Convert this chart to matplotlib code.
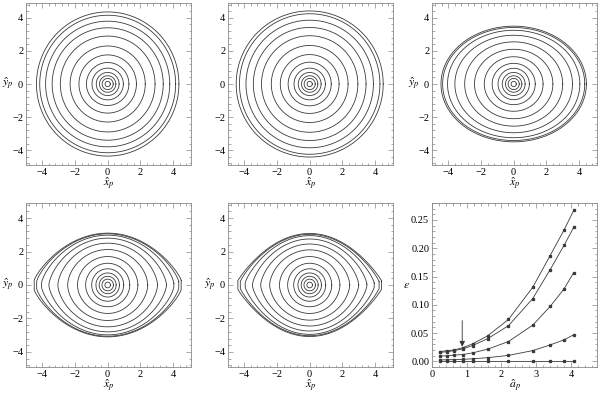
import numpy as np
import matplotlib
matplotlib.use("Agg")
import matplotlib.pyplot as plt
from matplotlib.ticker import MultipleLocator

plt.rcParams['font.family'] = ['Liberation Serif', 'DejaVu Serif']
plt.rcParams['mathtext.fontset'] = 'stix'

# ---- contour data: semi-axes along x, along y, shape exponent, tip bluntness ----
p1_ax = [0.16, 0.34, 0.50, 0.70, 0.96, 1.30, 1.76, 2.30, 2.90, 3.40, 3.80, 4.16, 4.36]
p1_ay = [0.16, 0.34, 0.50, 0.70, 0.96, 1.30, 1.76, 2.30, 2.90, 3.40, 3.80, 4.16, 4.36]
p1_n = [2.0] * 13
p1_c = [0.0] * 13

p2_ax = [0.16, 0.34, 0.50, 0.70, 0.96, 1.32, 1.80, 2.35, 2.95, 3.45, 3.90, 4.30, 4.50]
p2_ay = [0.16, 0.34, 0.50, 0.70, 0.96, 1.32, 1.78, 2.33, 2.92, 3.42, 3.86, 4.25, 4.42]
p2_n = [2.0] * 13
p2_c = [0.0] * 13

p3_ax = [0.16, 0.34, 0.50, 0.70, 0.96, 1.32, 1.80, 2.40, 3.00, 3.60, 4.05, 4.35, 4.45]
p3_ay = [0.16, 0.34, 0.50, 0.70, 0.95, 1.25, 1.65, 2.10, 2.55, 2.95, 3.25, 3.42, 3.50]
p3_n = [2.0] * 13
p3_c = [0.0] * 13

p4_ax = [0.17, 0.35, 0.52, 0.72, 0.98, 1.35, 1.85, 2.45, 3.05, 3.60, 4.05, 4.35, 4.50]
p4_ay = [0.17, 0.35, 0.52, 0.72, 0.97, 1.30, 1.70, 2.12, 2.50, 2.80, 2.98, 3.06, 3.10]
p4_n = [2.0, 2.0, 2.0, 2.0, 2.0, 1.95, 1.88, 1.78, 1.65, 1.52, 1.40, 1.30, 1.22]
p4_c = [0.0, 0.0, 0.0, 0.0, 0.0, 0.0, 0.0, 0.0, 0.0, 0.0, 0.10, 0.20, 0.28]

p5_ax = [0.17, 0.35, 0.52, 0.72, 0.98, 1.35, 1.85, 2.45, 3.00, 3.50, 3.95, 4.25, 4.40]
p5_ay = [0.17, 0.35, 0.52, 0.72, 0.97, 1.30, 1.70, 2.10, 2.45, 2.75, 2.95, 3.03, 3.08]
p5_n = [2.0, 2.0, 2.0, 2.0, 2.0, 1.95, 1.85, 1.70, 1.55, 1.40, 1.25, 1.15, 1.08]
p5_c = [0.0, 0.0, 0.0, 0.0, 0.0, 0.0, 0.0, 0.0, 0.0, 0.05, 0.12, 0.20, 0.25]

# ---- epsilon vs a_p ----
a_p = [0.22, 0.44, 0.63, 0.88, 1.17, 1.60, 2.20, 2.90, 3.40, 3.80, 4.08]
eps_A = [0.017, 0.019, 0.020, 0.024, 0.031, 0.045, 0.074, 0.131, 0.187, 0.232, 0.267]
eps_B = [0.016, 0.017, 0.019, 0.022, 0.028, 0.040, 0.063, 0.111, 0.162, 0.205, 0.237]
eps_C = [0.009, 0.010, 0.011, 0.012, 0.015, 0.0215, 0.035, 0.064, 0.097, 0.128, 0.157]
eps_D = [0.0025, 0.0028, 0.003, 0.0035, 0.0045, 0.0065, 0.0105, 0.019, 0.029, 0.038, 0.047]
eps_E = [0.0005] * 11
arrow_x = 0.87
arrow_y = [0.077, 0.021]

W, H = 600, 394
fig = plt.figure(figsize=(6.0, 3.94), dpi=100)

cols = [26, 228, 432]
wid = 165
rows = [(3, 165), (203, 367)]

def make_ax(col, row):
    top, bot = rows[row]
    return fig.add_axes([cols[col] / W, (H - bot) / H, wid / W, (bot - top) / H])

FS = 7.5
frame_col = '#888888'
line_col = '#3a3a3a'

def style(ax):
    for s in ax.spines.values():
        s.set_color(frame_col)
        s.set_linewidth(0.6)
    ax.tick_params(which='both', direction='in', top=True, right=True,
                   color=frame_col, labelsize=FS, width=0.5, pad=2)
    ax.tick_params(which='major', length=3.5)
    ax.tick_params(which='minor', length=1.8)

def draw_curves(ax, axs, ays, ns, cs):
    t = np.linspace(0, 2 * np.pi, 721)
    for a, b, n, c in zip(axs, ays, ns, cs):
        x = a * np.cos(t)
        s = np.sin(t)
        y = np.sign(s) * (c + (b - c) * np.abs(s) ** (2.0 / n))
        y[0] = c; y[-1] = c
        ax.plot(x, y, color=line_col, lw=0.6)
    ax.set_xlim(-5, 5.1)
    ax.set_ylim(-4.9, 4.9)
    ax.xaxis.set_major_locator(MultipleLocator(2))
    ax.yaxis.set_major_locator(MultipleLocator(2))
    ax.xaxis.set_minor_locator(MultipleLocator(0.4))
    ax.yaxis.set_minor_locator(MultipleLocator(0.4))
    style(ax)
    ax.set_xlabel(r'$\hat{x}_p$', fontsize=FS + 1, labelpad=-1)

panels = [
    (0, 0, p1_ax, p1_ay, p1_n, p1_c, True),
    (1, 0, p2_ax, p2_ay, p2_n, p2_c, False),
    (2, 0, p3_ax, p3_ay, p3_n, p3_c, True),
    (0, 1, p4_ax, p4_ay, p4_n, p4_c, True),
    (1, 1, p5_ax, p5_ay, p5_n, p5_c, True),
]
for col, row, axs_, ays_, ns_, cs_, ylab in panels:
    ax = make_ax(col, row)
    draw_curves(ax, axs_, ays_, ns_, cs_)
    if ylab:
        ax.set_ylabel(r'$\hat{y}_p$', fontsize=FS + 1, rotation=0, labelpad=3, va='center')

# epsilon panel
ax = make_ax(2, 1)
for e in [eps_A, eps_B, eps_C, eps_D, eps_E]:
    ax.plot(a_p, e, color=line_col, lw=0.6, marker='s', ms=1.4)
ax.annotate('', xy=(arrow_x, arrow_y[1]), xytext=(arrow_x, arrow_y[0]),
            arrowprops=dict(arrowstyle='-|>', color='#333333', lw=0.6,
                            mutation_scale=8))
ax.set_xlim(0, 4.75)
ax.set_ylim(-0.01, 0.28)
ax.xaxis.set_major_locator(MultipleLocator(1))
ax.xaxis.set_minor_locator(MultipleLocator(0.2))
ax.yaxis.set_major_locator(MultipleLocator(0.05))
ax.yaxis.set_minor_locator(MultipleLocator(0.01))
ax.yaxis.set_major_formatter(matplotlib.ticker.FormatStrFormatter('%.2f'))
style(ax)
ax.set_xlabel(r'$\hat{a}_p$', fontsize=FS + 1, labelpad=-1)
ax.set_ylabel(r'$\varepsilon$', fontsize=FS + 1, rotation=0, labelpad=3, va='center')

fig.savefig('out.png', dpi=100)
